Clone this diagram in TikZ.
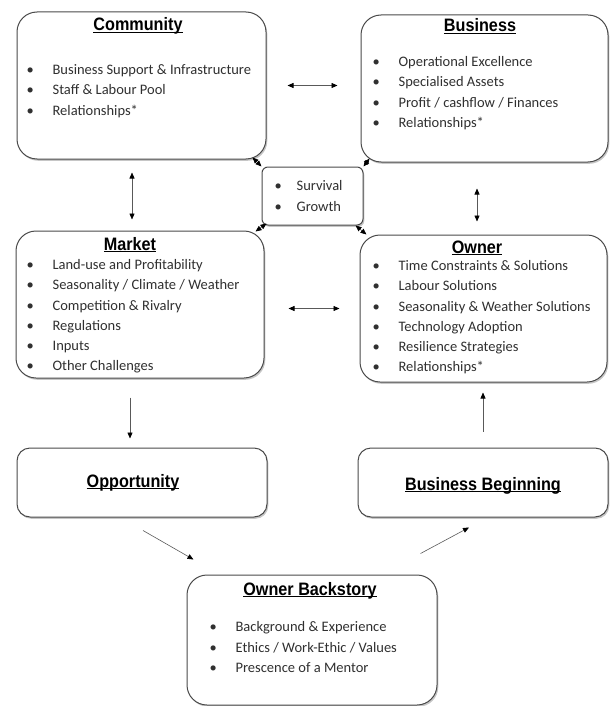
\documentclass[tikz,border=0pt]{standalone}
\usepackage{fontspec}
\setmainfont{Carlito}
\newfontfamily\headfont[FakeStretch=0.9]{Liberation Sans}
\usepackage{tikz}
\usetikzlibrary{arrows.meta}
\usetikzlibrary{shadows}
\definecolor{edge}{HTML}{4A4A4A}
\definecolor{ink}{HTML}{303030}
\tikzset{box/.style={draw=edge,line width=1pt,fill=white,rounded corners=20pt,inner sep=0,
    drop shadow={shadow xshift=1.3pt,shadow yshift=-1.8pt,opacity=.45}}}
\tikzset{head label/.style={anchor=base,inner sep=0,font=\headfont\bfseries\fontsize{18}{20}\selectfont}}
\tikzset{item label/.style={anchor=north west,inner sep=0,align=left,text=ink,font=\fontsize{14.5}{20.3}\selectfont}}
\tikzset{link/.style={draw=black!65,line width=.6pt,-{Triangle[length=6pt,width=5pt,color=black]}}}
\tikzset{both link/.style={link,{Triangle[length=6pt,width=5pt,color=black]}-{Triangle[length=6pt,width=5pt,color=black]}}}
\newcommand\bl{\makebox[26pt][l]{\textbullet}}
\newcommand\headline[1]{\setbox0=\hbox{#1}\rlap{\rule[-2.3pt]{\wd0}{1.3pt}}\box0}

\begin{document}
\begin{tikzpicture}[x=1pt,y=-1pt]
        \useasboundingbox (0,0) rectangle (611,706);

          %Community
          \node[box, minimum width=249pt, minimum height=147pt] (community) at (141.5,85.5) {};
          \node[head label] (communityT) at (138,31) {\headline{Community}};
          \node[item label] (communityL) at (26.4,60) {\strut\bl Business Support \& Infrastructure\\ \bl Staff \& Labour Pool\\ \bl Relationships*};

          %Business
          \node[box, minimum width=247pt, minimum height=147pt] (business) at (484.5,88.5) {};
          \node[head label] (businessT) at (480,32) {\headline{Business}};
          \node[item label] (businessL) at (372.4,52) {\strut\bl Operational Excellence\\ \bl Specialised Assets\\ \bl Profit / cashflow / Finances\\ \bl Relationships*};

          %Survival / Growth
          \node[box, rounded corners=6pt, minimum width=101pt, minimum height=58pt, drop shadow={opacity=0}] (hub) at (312.5,196) {};
          \node[item label, font=\fontsize{14.5}{21}\selectfont] (hubL) at (274.4,176) {\strut\makebox[22pt][l]{\textbullet}Survival\\ \makebox[22pt][l]{\textbullet}Growth};

          %Market
          \node[box, minimum width=248pt, minimum height=147pt] (market) at (140,304.5) {};
          \node[head label] (marketT) at (130,250) {\headline{Market}};
          \node[item label] (marketL) at (26.4,255) {\strut\bl Land-use and Profitability\\ \bl Seasonality / Climate / Weather\\ \bl Competition \& Rivalry\\ \bl Regulations\\ \bl Inputs\\ \bl Other Challenges};

          %Owner
          \node[box, minimum width=247pt, minimum height=147pt] (owner) at (483.5,308.5) {};
          \node[head label] (ownerT) at (477,253) {\headline{Owner}};
          \node[item label] (ownerL) at (372.4,256) {\strut\bl Time Constraints \& Solutions\\ \bl Labour Solutions\\ \bl Seasonality \& Weather Solutions\\ \bl Technology Adoption\\ \bl Resilience Strategies\\ \bl Relationships*};

          %Opportunity, Business Beginning
          \node[box, rounded corners=13pt, minimum width=250pt, minimum height=69pt] (opportunity) at (142,482.5) {};
          \node[head label] (opportunityT) at (133,487) {\headline{Opportunity}};
          \node[box, rounded corners=13pt, minimum width=250pt, minimum height=69pt] (beginning) at (483,482.5) {};
          \node[head label] (beginningT) at (483,490) {\headline{Business Beginning}};

          %Owner Backstory
          \node[box, minimum width=250pt, minimum height=130pt] (backstory) at (312,640) {};
          \node[head label] (backstoryT) at (310,595) {\headline{Owner Backstory}};
          \node[item label, font=\fontsize{14.5}{20.5}\selectfont] (backstoryL) at (209.4,617) {\strut\bl Background \& Experience\\ \bl Ethics / Work-Ethic / Values\\ \bl Prescence of a Mentor};

          %box <-> box
          \draw[both link, shorten <=21pt, shorten >=23pt] (community.east) -- (community.east -| business.west);
          \draw[both link, shorten <=24pt, shorten >=20pt] (owner.west -| market.east) -- (owner.west);
          \draw[both link, shorten <=13pt, shorten >=11pt] ([xshift=-9.5pt]community.south) -- ([xshift=-9.5pt]community.south |- market.north);
          \draw[both link, shorten <=26pt, shorten >=13pt] ([xshift=-7.5pt]business.south) -- ([xshift=-7.5pt]business.south |- owner.north);

          %hub <-> box
          \draw[both link] (hub.north west) -- ([xshift=-14pt,yshift=2pt]community.south east);
          \draw[both link] (hub.north east) -- ([xshift=9pt,yshift=4pt]business.south west);
          \draw[both link] ([xshift=5pt,yshift=2pt]hub.south west) -- ([xshift=-9pt,yshift=-1pt]market.north east);
          \draw[both link] ([xshift=-8pt]hub.south east) -- ([xshift=7pt]owner.north west);

          %story
          \draw[link, shorten <=19pt, shorten >=9pt] ([xshift=-10pt]market.south) -- ([xshift=-10pt]market.south |- opportunity.north);
          \draw[link] ([xshift=1pt,yshift=-13pt]opportunity.south) -- ([xshift=7pt,yshift=15pt]backstory.north west);
          \draw[link] ([xshift=-17pt,yshift=21pt]backstory.north east) -- ([xshift=-14pt,yshift=-10pt]beginning.south);
          \draw[link, shorten <=16pt, shorten >=10pt] (beginning.north) -- (beginning.north |- owner.south);

        \end{tikzpicture}
\end{document}
